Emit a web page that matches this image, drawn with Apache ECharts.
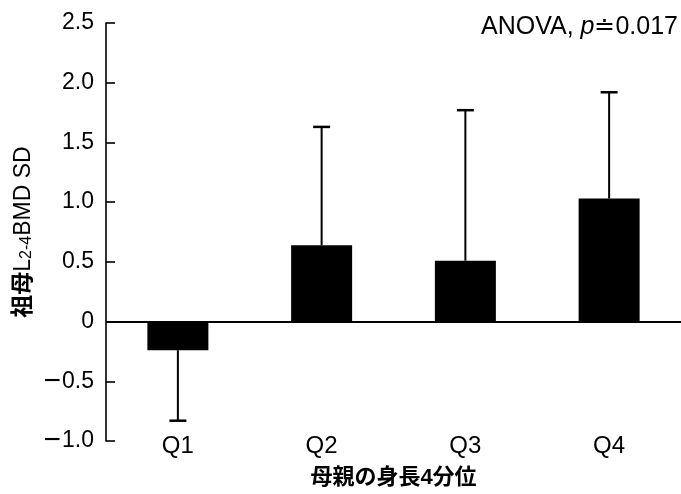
<!DOCTYPE html>
<html>
<head>
<meta charset="utf-8">
<script src="https://cdn.jsdelivr.net/npm/echarts@6/dist/echarts.min.js"></script>
<style>html,body{margin:0;padding:0;background:#fff;}#c{width:681px;height:494px;}</style>
</head>
<body>
<div id="c"></div>
<script>
var categories = ['Q1', 'Q2', 'Q3', 'Q4'];
var meanSD = [-0.24, 0.64, 0.51, 1.03];
var errorEnd = [-0.83, 1.63, 1.77, 1.92];
var yTicks = [-1.0, -0.5, 0, 0.5, 1.0, 1.5, 2.0, 2.5];
var xTitle = '母親の身長4分位';
var yTitleParts = ['祖母', 'L', '2-4', 'BMD SD'];
var annotation = ['ANOVA, ', 'p', '≐0.017'];

var FONT = "'Liberation Sans', Arial, 'Noto Sans CJK JP', sans-serif";
var chart = echarts.init(document.getElementById('c'), null, {renderer: 'canvas'});

var option = {
  animation: false,
  backgroundColor: '#fff',
  grid: {left: 106, right: -3, top: 23, bottom: 53, containLabel: false},
  xAxis: {
    type: 'category',
    data: categories,
    position: 'bottom',
    axisLine: {show: false, onZero: false},
    axisTick: {show: false},
    axisLabel: {color: '#000', fontFamily: FONT, fontSize: 24, margin: -7},
    name: xTitle,
    nameLocation: 'middle',
    nameGap: 26,
    nameMoveOverlap: false,
    nameTextStyle: {color: '#000', fontFamily: FONT, fontSize: 22, fontWeight: 'bold'}
  },
  yAxis: {
    type: 'value',
    min: yTicks[0],
    max: yTicks[yTicks.length - 1],
    interval: 0.5,
    splitLine: {show: false},
    axisLine: {show: true, lineStyle: {color: '#000', width: 1.6}},
    axisTick: {show: true, inside: true, length: 9, lineStyle: {color: '#000', width: 1.6}},
    axisLabel: {
      color: '#000', fontFamily: FONT, fontSize: 23, margin: 12,
      formatter: function (v) {
        if (Math.abs(v) < 1e-9) return '0';
        var s = Math.abs(v).toFixed(1);
        return v < 0 ? '{m|\u2212}{n|' + s + '}' : s;
      },
      rich: {
        m: {fontFamily: FONT, fontSize: 30, color: '#000', padding: [0, 1, 0, 0]},
        n: {fontFamily: FONT, fontSize: 23, color: '#000'}
      }
    },
    name: '{b|' + yTitleParts[0] + '}{a|' + yTitleParts[1] + '}{s|' + yTitleParts[2] + '}{a|' + yTitleParts[3] + '}',
    nameLocation: 'middle',
    nameRotate: 90,
    nameGap: 71,
    nameMoveOverlap: false,
    nameTextStyle: {
      color: '#000', fontFamily: FONT, fontSize: 23,
      rich: {
        a: {fontFamily: FONT, fontSize: 23, color: '#000'},
        b: {fontFamily: FONT, fontSize: 23, color: '#000', fontWeight: 'bold'},
        s: {fontFamily: FONT, fontSize: 16, color: '#000', padding: [7, 0, 0, 0]}
      }
    }
  },
  series: [
    {
      type: 'bar',
      data: meanSD,
      barWidth: 61,
      itemStyle: {color: '#000'},
      markLine: {
        silent: true,
        symbol: ['none', 'none'],
        label: {show: false},
        lineStyle: {color: '#000', width: 1.8, type: 'solid'},
        data: [{yAxis: 0}]
      },
      z: 2
    },
    {
      type: 'custom',
      data: categories.map(function (c, i) { return [i, meanSD[i], errorEnd[i]]; }),
      renderItem: function (params, api) {
        var x = api.value(0);
        var p0 = api.coord([x, api.value(1)]);
        var p1 = api.coord([x, api.value(2)]);
        var hw = 8.5;
        return {
          type: 'group',
          children: [
            {type: 'line', shape: {x1: p0[0], y1: p0[1], x2: p1[0], y2: p1[1]}, style: {stroke: '#000', lineWidth: 2}},
            {type: 'line', shape: {x1: p1[0] - hw, y1: p1[1], x2: p1[0] + hw, y2: p1[1]}, style: {stroke: '#000', lineWidth: 2.5}}
          ]
        };
      },
      z: 3
    }
  ],
  graphic: [
    {
      type: 'text',
      right: 3,
      top: 15,
      style: {
        text: '{a|' + annotation[0] + '}{i|' + annotation[1] + '}{a|' + annotation[2] + '}',
        rich: {
          a: {fontFamily: FONT, fontSize: 25, fill: '#000'},
          i: {fontFamily: FONT, fontSize: 25, fontStyle: 'italic', fill: '#000'}
        }
      }
    }
  ]
};
chart.setOption(option);
</script>
</body>
</html>
